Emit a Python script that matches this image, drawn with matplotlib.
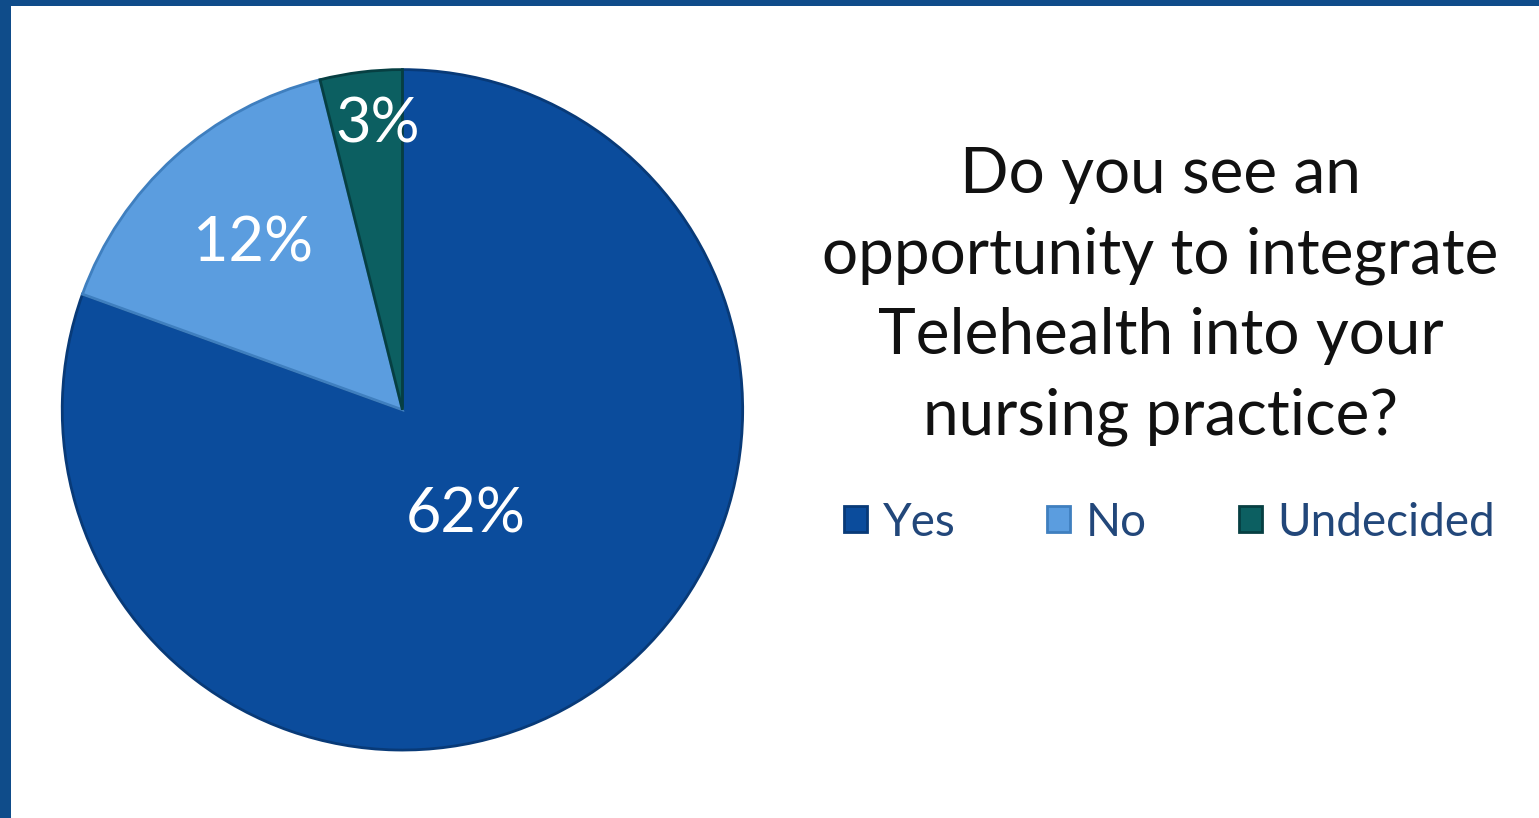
import matplotlib
matplotlib.use("Agg")
import matplotlib.pyplot as plt
from matplotlib.patches import Rectangle
import numpy as np

answers = ['Yes', 'No', 'Undecided']
shares = [62, 12, 3]
pct_labels = ['62%', '12%', '3%']
title = 'Do you see an\nopportunity to integrate\nTelehealth into your\nnursing practice?'

colors = ['#0b4c9c', '#5b9ddf', '#0c5f61']
edges = ['#083a78', '#3f7fbf', '#063f42']
label_dist = [0.36, 0.655, 0.84]
label_shift = [-4, 0, -2]  # degrees, nudges label off the wedge middle

plt.rcParams['font.family'] = ['Lato', 'DejaVu Sans']

fig = plt.figure(figsize=(15.39, 8.18), dpi=100)
fig.set_facecolor('#0f4c8a')
fig.patches.append(Rectangle((11 / 1539, 0), 1, 1 - 6 / 818, transform=fig.transFigure,
                             facecolor='white', edgecolor='none', zorder=-1))

ax = fig.add_axes([0.039, 0.081, 0.445, 0.836])
ax.set_zorder(1)
wedges, _ = ax.pie(shares, colors=colors, startangle=90, counterclock=False,
                   wedgeprops=dict(linewidth=2))
for w, ec in zip(wedges, edges):
    w.set_edgecolor(ec)
ax.set_xlim(-1.005, 1.005)
ax.set_ylim(-1.005, 1.005)
ax.set_aspect('equal')

for w, lab, d, s in zip(wedges, pct_labels, label_dist, label_shift):
    ang = np.deg2rad((w.theta1 + w.theta2) / 2 + s)
    ax.text(d * np.cos(ang), d * np.sin(ang), lab, color='white', fontsize=44,
            ha='center', va='center')

fig.text(0.754, 0.638, title, ha='center', va='center', fontsize=46,
         color='#111111', linespacing=1.47)

leg = fig.legend(wedges, answers, ncol=3, loc='center', bbox_to_anchor=(0.760, 0.361),
                 frameon=False, fontsize=33, handlelength=0.5, handleheight=0.5,
                 handletextpad=0.35, columnspacing=2.0)
for t in leg.get_texts():
    t.set_color('#22477a')

fig.savefig('out.png', dpi=100, facecolor=fig.get_facecolor())
